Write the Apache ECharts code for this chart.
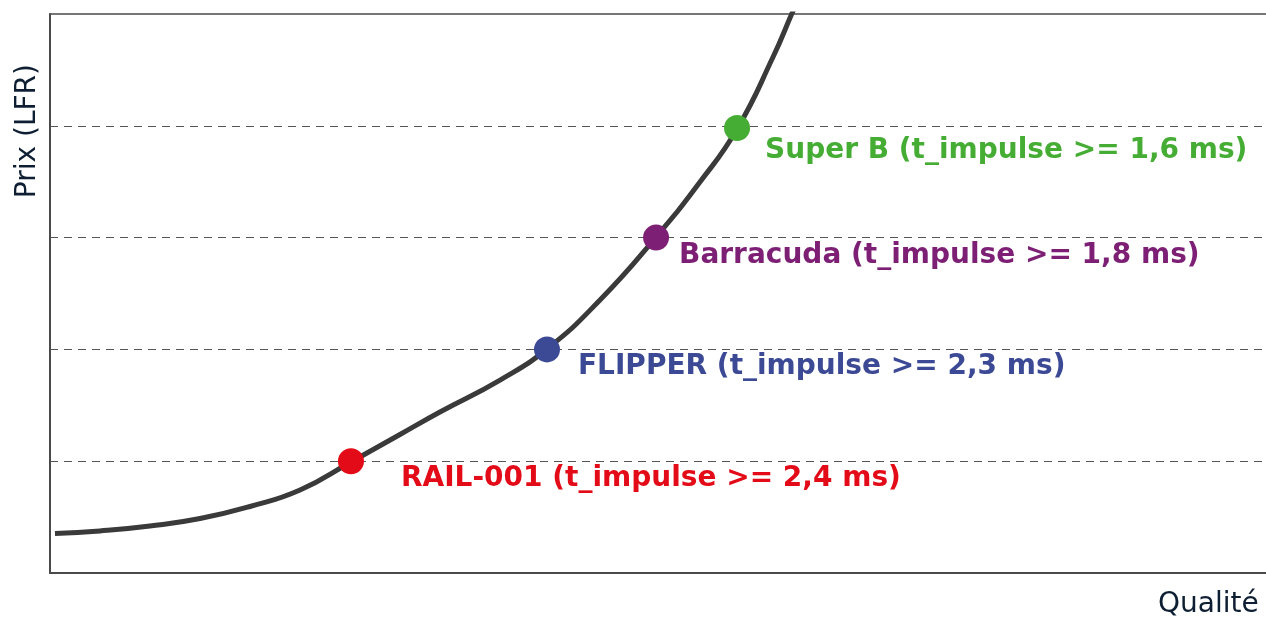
<!DOCTYPE html>
<html>
<head>
<meta charset="utf-8">
<script src="https://cdn.jsdelivr.net/npm/echarts@6/dist/echarts.min.js"></script>
<style>
  html, body { margin: 0; padding: 0; background: #fff; }
  #main { width: 1266px; height: 619px; }
</style>
</head>
<body>
<div id="main"></div>
<script>
// courbe prix / qualité
var curveX = [0.41, 4.11, 8.22, 12.34, 16.45, 20.56, 24.75, 28.78, 32.07, 37.01, 40.87, 45.23, 49.84, 53.45, 56.5, 59.46, 61.02, 61.68];
var curveY = [0.353, 0.376, 0.420, 0.487, 0.595, 0.742, 0.993, 1.239, 1.44, 1.726, 2.004, 2.442, 3.005, 3.497, 3.971, 4.615, 5.006, 5.17];

// produits
var names   = ['RAIL-001 (t_impulse >= 2,4 ms)', 'FLIPPER (t_impulse >= 2,3 ms)', 'Barracuda (t_impulse >= 1,8 ms)', 'Super B (t_impulse >= 1,6 ms)'];
var pointX  = [24.75, 40.87, 49.84, 56.5];
var pointY  = [1.0, 2.0, 3.0, 3.98];
var colors  = ['#e30b17', '#3c4a96', '#7d1f74', '#45ac34'];
var offsets = [[37, 18], [18, 17], [10, 18], [15, 23]];

var yTicks = { min: 0, max: 5, interval: 1 };

var curve = [];
for (var i = 0; i < curveX.length; i++) {
    curve.push([curveX[i], curveY[i]]);
}

var points = [];
for (var j = 0; j < names.length; j++) {
    points.push({
        name: names[j],
        value: [pointX[j], pointY[j]],
        itemStyle: { color: colors[j], opacity: 1 },
        label: {
            show: true,
            position: 'right',
            distance: 0,
            offset: offsets[j],
            formatter: '{b}',
            color: colors[j],
            fontFamily: 'DejaVu Sans',
            fontWeight: 'bold',
            fontSize: 28
        }
    });
}

var axisColor = '#4a4a4a';
var myChart = echarts.init(document.getElementById('main'));
var option = {
    animation: false,
    backgroundColor: '#fff',
    grid: {
        left: 50,
        right: 0,
        top: 14,
        bottom: 46,
        outerBoundsMode: 'none'
    },
    xAxis: [
        {
            type: 'value',
            min: 0,
            max: 100,
            name: 'Qualité',
            nameLocation: 'end',
            nameGap: -108,
            nameTextStyle: {
                color: '#0f1f33',
                fontFamily: 'DejaVu Sans',
                fontSize: 28,
                align: 'left',
                verticalAlign: 'top',
                padding: [18, 0, 0, 0]
            },
            axisLine: { show: true, lineStyle: { color: axisColor, width: 2 } },
            axisTick: { show: false },
            axisLabel: { show: false },
            splitLine: { show: false }
        },
        {
            // ligne du haut
            type: 'value',
            position: 'top',
            min: 0,
            max: 100,
            axisLine: { show: true, lineStyle: { color: axisColor, width: 1.5 } },
            axisTick: { show: false },
            axisLabel: { show: false },
            splitLine: { show: false }
        }
    ],
    yAxis: {
        type: 'value',
        min: yTicks.min,
        max: yTicks.max,
        interval: yTicks.interval,
        name: 'Prix (LFR)',
        nameLocation: 'end',
        nameRotate: 90,
        nameGap: -50,
        nameTextStyle: {
            color: '#0f1f33',
            fontFamily: 'DejaVu Sans',
            fontSize: 28,
            align: 'right',
            verticalAlign: 'bottom',
            padding: [0, 0, 8, 0]
        },
        axisLine: { show: true, lineStyle: { color: axisColor, width: 2 } },
        axisTick: { show: false },
        axisLabel: { show: false },
        splitLine: {
            show: true,
            showMinLine: false,
            showMaxLine: false,
            lineStyle: { color: '#555', width: 1, type: [8, 6] }
        }
    },
    series: [
        {
            type: 'line',
            data: curve,
            smooth: 0.5,
            showSymbol: false,
            clip: true,
            lineStyle: { color: '#3a3a3a', width: 5 },
            z: 2
        },
        {
            type: 'scatter',
            data: points,
            symbolSize: 26,
            z: 3
        }
    ]
};
myChart.setOption(option);
</script>
</body>
</html>
